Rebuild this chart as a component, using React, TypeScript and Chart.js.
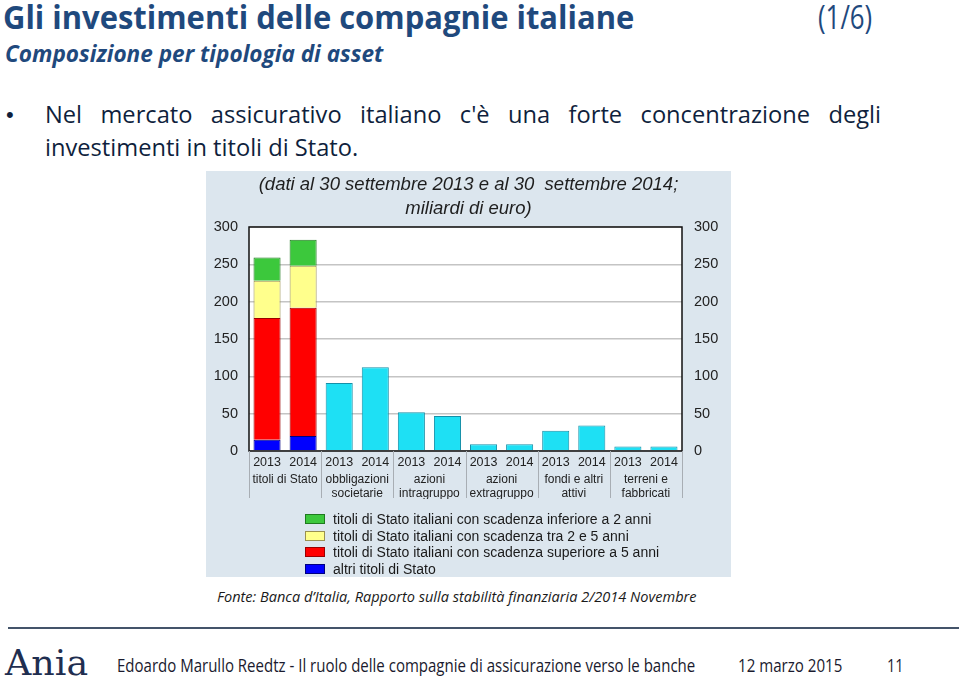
import React, { useEffect, useLayoutEffect, useRef } from "react";
import { Chart, registerables } from "chart.js";

Chart.register(...registerables);

// ---------- data ----------
const years = ["2013", "2014", "2013", "2014", "2013", "2014", "2013", "2014", "2013", "2014", "2013", "2014"];
const groupLabels = [
  ["titoli di Stato"],
  ["obbligazioni", "societarie"],
  ["azioni", "intragruppo"],
  ["azioni", "extragruppo"],
  ["fondi e altri", "attivi"],
  ["terreni e", "fabbricati"],
];
const altriTitoliStato = [15, 20, null, null, null, null, null, null, null, null, null, null];
const scadenzaOltre5 = [163, 172, null, null, null, null, null, null, null, null, null, null];
const scadenzaTra2e5 = [50, 56, null, null, null, null, null, null, null, null, null, null];
const scadenzaSotto2 = [31, 35, null, null, null, null, null, null, null, null, null, null];
const altriAsset = [null, null, 91, 112, 52, 47, 9, 9, 27, 34, 6, 6];
const legendLabels = [
  "titoli di Stato italiani con scadenza inferiore a 2 anni",
  "titoli di Stato italiani con scadenza tra 2 e 5 anni",
  "titoli di Stato italiani con scadenza superiore a 5 anni",
  "altri titoli di Stato",
];
const legendColors = ["#3cc83c", "#ffff8c", "#ff0000", "#0000ff"];
const legendBorders = ["#1f7a1f", "#9a9050", "#9a0000", "#000080"];
const chartTitle = ["(dati al 30 settembre 2013 e al 30  settembre 2014;", "miliardi di euro)"];

const CALIBRI = "'Open Sans', 'Noto Sans', sans-serif";
const ARIAL = "'Liberation Sans', Arial, sans-serif";

function Fit(props: {
  x: number; y: number; w: number; fs: number; text: string; color: string;
  weight?: number | string; italic?: boolean; font?: string;
}) {
  const ref = useRef<HTMLDivElement>(null);
  useLayoutEffect(() => {
    const el = ref.current;
    if (!el) return;
    el.style.transform = "none";
    const nat = el.offsetWidth;
    if (nat > 0) el.style.transform = `scaleX(${props.w / nat})`;
  }, []);
  return (
    <div
      ref={ref}
      style={{
        position: "absolute",
        left: props.x,
        top: props.y,
        whiteSpace: "pre",
        fontFamily: props.font || CALIBRI,
        fontSize: props.fs,
        lineHeight: `${props.fs}px`,
        fontWeight: props.weight ?? 400,
        fontStyle: props.italic ? "italic" : "normal",
        color: props.color,
        transformOrigin: "0 0",
      }}
    >
      {props.text}
    </div>
  );
}

function Body() {
  const l1 = useRef<HTMLDivElement>(null);
  const l2 = useRef<HTMLDivElement>(null);
  useLayoutEffect(() => {
    const a = l1.current, b = l2.current;
    if (!a || !b) return;
    b.style.transform = "none";
    const nat = b.offsetWidth;
    const s = 313 / nat;
    b.style.transform = `scaleX(${s})`;
    a.style.width = `${836 / s}px`;
    a.style.transform = `scaleX(${s})`;
  }, []);
  const fs = 23.5;
  const common: React.CSSProperties = {
    position: "absolute",
    left: 45,
    fontFamily: CALIBRI,
    fontSize: fs,
    lineHeight: `${fs}px`,
    color: "#0f1f3d",
    transformOrigin: "0 0",
    whiteSpace: "nowrap",
  };
  return (
    <>
      <div style={{ position: "absolute", left: 6, top: 104, fontFamily: ARIAL, fontSize: 22, lineHeight: "22px", color: "#0f1f3d" }}>•</div>
      <div
        ref={l1}
        style={{ ...common, top: 124.3 - 0.888 * fs, whiteSpace: "normal", textAlign: "justify", textAlignLast: "justify" }}
      >
        Nel mercato assicurativo italiano c'è una forte concentrazione degli
      </div>
      <div ref={l2} style={{ ...common, top: 156.7 - 0.888 * fs }}>
        investimenti in titoli di Stato.
      </div>
    </>
  );
}

function BarChart() {
  const ref = useRef<HTMLCanvasElement>(null);
  useEffect(() => {
    if (!ref.current) return;
    const bgPlugin = {
      id: "bgPlugin",
      beforeDraw(chart: any) {
        const { ctx, chartArea: a } = chart;
        ctx.save();
        ctx.fillStyle = "#dce6ee";
        ctx.fillRect(0, 0, chart.width, chart.height);
        ctx.fillStyle = "#ffffff";
        ctx.fillRect(a.left, a.top, a.right - a.left, a.bottom - a.top);
        ctx.restore();
      },
      afterDatasetsDraw(chart: any) {
        const { ctx, chartArea: a } = chart;
        const xs = chart.scales.x;
        ctx.save();
        ctx.strokeStyle = "#111111";
        ctx.lineWidth = 1.5;
        ctx.strokeRect(a.left, a.top, a.right - a.left, a.bottom - a.top);
        // group separators below axis
        ctx.strokeStyle = "#a8aeb4";
        ctx.lineWidth = 1;
        const n = years.length;
        for (let g = 0; g <= n; g += 2) {
          let px: number;
          if (g === 0) px = a.left;
          else if (g === n) px = a.right;
          else px = (xs.getPixelForTick(g - 1) + xs.getPixelForTick(g)) / 2;
          px = Math.round(px) + 0.5;
          ctx.beginPath();
          ctx.moveTo(px, a.bottom);
          ctx.lineTo(px, a.bottom + 47);
          ctx.stroke();
        }
        ctx.restore();
      },
    };

    const chart = new Chart(ref.current, {
      type: "bar",
      data: {
        labels: years,
        datasets: [
          { label: legendLabels[3], data: altriTitoliStato, backgroundColor: legendColors[3], borderColor: legendBorders[3], borderWidth: 1 },
          { label: legendLabels[2], data: scadenzaOltre5, backgroundColor: legendColors[2], borderColor: legendBorders[2], borderWidth: 1 },
          { label: legendLabels[1], data: scadenzaTra2e5, backgroundColor: legendColors[1], borderColor: legendBorders[1], borderWidth: 1 },
          { label: legendLabels[0], data: scadenzaSotto2, backgroundColor: legendColors[0], borderColor: legendBorders[0], borderWidth: 1 },
          { label: "altri", data: altriAsset, backgroundColor: "#1ee0f4", borderColor: "#1590a8", borderWidth: 1 },
        ] as any,
      },
      options: {
        animation: false,
        responsive: false,
        devicePixelRatio: 1,
        datasets: { bar: { barPercentage: 0.75, categoryPercentage: 1 } },
        layout: { padding: { top: 0, left: 0, right: 0, bottom: 78 } },
        plugins: {
          legend: { display: false },
          tooltip: { enabled: false },
          title: {
            display: true,
            text: chartTitle,
            color: "#1e1e1e",
            font: { family: ARIAL, size: 18.5, style: "italic", weight: "normal", lineHeight: 1.3 },
            padding: { top: 2, bottom: 5.9 },
          },
        },
        scales: {
          x: {
            type: "category",
            stacked: true,
            position: "bottom",
            weight: 0,
            grid: { display: false, drawTicks: false },
            border: { display: false },
            ticks: { color: "#222222", font: { family: ARIAL, size: 12.5 }, padding: 4, maxRotation: 0, autoSkip: false },
            afterFit(s: any) { s.height = 18; },
          },
          x2: {
            type: "category",
            labels: groupLabels as any,
            position: "bottom",
            weight: 1,
            offset: true,
            grid: { display: false, drawTicks: false },
            border: { display: false },
            ticks: { color: "#222222", font: { family: ARIAL, size: 12, lineHeight: 1.15 }, padding: 4, maxRotation: 0, autoSkip: false },
            afterFit(s: any) { s.height = 30; },
          },
          y: {
            stacked: true,
            position: "left",
            min: 0,
            max: 300,
            grid: { color: "#c4c4c4", lineWidth: 1.5, drawTicks: false },
            border: { display: false },
            ticks: { stepSize: 50, color: "#222222", font: { family: ARIAL, size: 14.5 }, padding: 11 },
            afterFit(s: any) { s.width = 43; },
          },
          y2: {
            position: "right",
            min: 0,
            max: 300,
            grid: { drawOnChartArea: false, drawTicks: false },
            border: { display: false },
            ticks: { stepSize: 50, color: "#222222", font: { family: ARIAL, size: 14.5 }, padding: 12 },
            afterFit(s: any) { s.width = 49; },
          },
        },
      } as any,
      plugins: [bgPlugin],
    });
    return () => chart.destroy();
  }, []);
  return <canvas ref={ref} width={525} height={406} style={{ display: "block", width: 525, height: 406 }} />;
}

export default function App() {
  return (
    <div style={{ position: "fixed", left: 0, top: 0, width: 959, height: 683, background: "#ffffff", overflow: "hidden" }}>
      <Fit x={3} y={29 - 0.888 * 33} w={631} fs={33} weight={700} color="#1f497d" text="Gli investimenti delle compagnie italiane" />
      <Fit x={818} y={29 - 0.888 * 33} w={54} fs={33} weight={400} color="#1f497d" text="(1/6)" />
      <Fit x={5} y={62 - 0.888 * 24} w={378} fs={24} weight={700} italic color="#1f497d" text="Composizione per tipologia di asset" />
      <Body />
      <div style={{ position: "absolute", left: 206, top: 171, width: 525, height: 406 }}>
        <BarChart />
        <div style={{ position: "absolute", left: 99, top: 340 }}>
          {legendLabels.map((t, i) => (
            <div key={i} style={{ position: "absolute", left: 0, top: i * 16.7, height: 16, whiteSpace: "nowrap", display: "flex", alignItems: "center" }}>
              <span style={{ display: "inline-block", width: 18, height: 8, background: legendColors[i], border: `1px solid ${legendBorders[i]}`, marginRight: 8 }} />
              <span style={{ fontFamily: ARIAL, fontSize: 14, color: "#1a1a1a" }}>{t}</span>
            </div>
          ))}
        </div>
      </div>
      <Fit x={217} y={602 - 0.888 * 15} w={480} fs={15} italic color="#1a1a1a" text="Fonte: Banca d’Italia, Rapporto sulla stabilità finanziaria 2/2014 Novembre" />
      <div style={{ position: "absolute", left: 8, top: 627, width: 951, height: 2, background: "#44546a" }} />
      <Fit x={5} y={645} w={83} fs={36} font="'DejaVu Serif', 'Liberation Serif', serif" color="#1f2e50" text="Ania" />
      <Fit x={117} y={672 - 0.888 * 18} w={578} fs={18} color="#1a1a2e" text="Edoardo Marullo Reedtz - Il ruolo delle compagnie di assicurazione verso le banche" />
      <Fit x={738} y={672 - 0.888 * 18} w={104} fs={18} color="#1a1a2e" text="12 marzo 2015" />
      <Fit x={887} y={672 - 0.888 * 18} w={17} fs={18} color="#1a1a2e" text="11" />
    </div>
  );
}
